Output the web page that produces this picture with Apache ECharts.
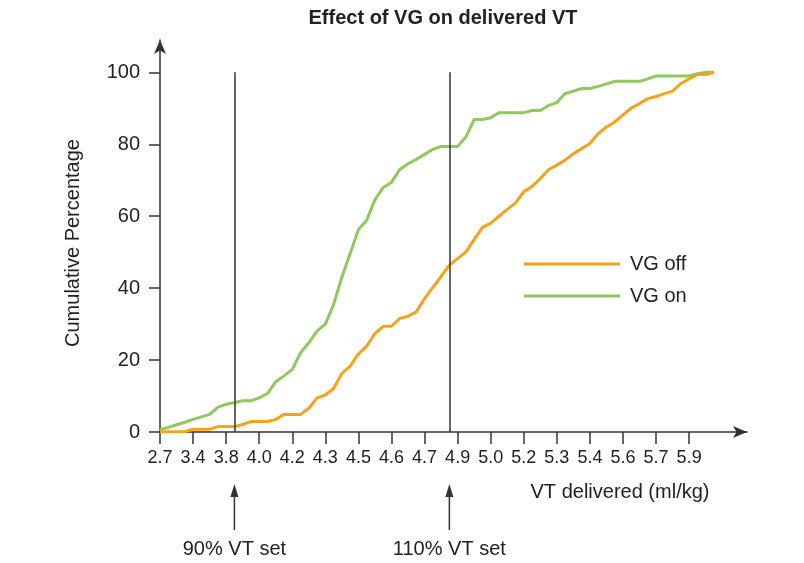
<!DOCTYPE html>
<html>
<head>
<meta charset="utf-8">
<script src="https://cdn.jsdelivr.net/npm/echarts@6/dist/echarts.min.js"></script>
<style>
  html, body { margin: 0; padding: 0; background: #fff; }
  #chart { width: 804px; height: 563px; }
</style>
</head>
<body>
<div id="chart"></div>
<script>
// tick labels along VT delivered (ml/kg); 4 samples between each label
const tickLabels = ['2.7', '3.4', '3.8', '4.0', '4.2', '4.3', '4.5', '4.6', '4.7', '4.9', '5.0', '5.2', '5.3', '5.4', '5.6', '5.7', '5.9']
const stepsPerTick = 4
const yTicks = [0, 20, 40, 60, 80, 100]

// cumulative percentage, one value per sample step
const vgOff = [
  0, 0.1, 0.1, 0.1, 0.75, 0.75, 0.75, 1.5, 1.5, 1.5,
  2.1, 2.9, 2.9, 2.9, 3.5, 4.9, 4.9, 4.9, 6.6, 9.5,
  10.3, 12.1, 16.3, 18.3, 21.7, 23.9, 27.4, 29.4, 29.4, 31.6,
  32.2, 33.4, 37.1, 40.2, 43.3, 46.4, 48.2, 50.1, 53.5, 56.9,
  58.1, 60, 61.9, 63.7, 66.8, 68.3, 70.5, 73, 74.2, 75.6,
  77.4, 78.8, 80.2, 83, 84.8, 86.2, 88.2, 90.1, 91.3, 92.7,
  93.3, 94.1, 94.8, 96.9, 98.2, 99.4, 99.4, 100
]
const vgOn = [
  0.6, 1.3, 2.0, 2.7, 3.5, 4.2, 4.9, 6.9, 7.7, 8.2,
  8.7, 8.7, 9.5, 10.7, 14.0, 15.6, 17.4, 22.0, 24.8, 28.1,
  30.0, 35.5, 43.1, 49.6, 56.3, 58.9, 64.6, 68.0, 69.4, 73.0,
  74.6, 75.8, 77.2, 78.6, 79.4, 79.4, 79.4, 82.0, 86.9, 86.9,
  87.4, 88.8, 88.8, 88.8, 88.8, 89.4, 89.4, 90.8, 91.6, 94.1,
  94.8, 95.5, 95.5, 96.1, 96.8, 97.5, 97.5, 97.5, 97.5, 98.2,
  99.0, 99.0, 99.0, 99.0, 99.0, 99.6, 100, 100
]

// VT set markers (in sample steps)
const setNames = ['90% VT set', '110% VT set']
const setSteps = [9, 35]

const font = 'Liberation Sans, Arial, sans-serif'
const axisColor = '#333'
const textColor = '#222'

const tickSteps = tickLabels.map((_, i) => i * stepsPerTick)
const toPairs = arr => arr.map((v, i) => [i, v])

const chart = echarts.init(document.getElementById('chart'))

const option = {
  animation: false,
  legend: {
    orient: 'vertical',
    left: 524,
    top: 253,
    padding: 0,
    icon: 'rect',
    itemWidth: 96,
    itemHeight: 3,
    itemGap: 10,
    data: ['VG off', 'VG on'],
    textStyle: { fontFamily: font, fontSize: 20, color: textColor, lineHeight: 22, padding: [0, 0, 0, 5] }
  },
  grid: { left: 160, right: 57, top: 40, bottom: 131 },
  xAxis: {
    type: 'value',
    min: 0,
    max: 71,
    axisLine: {
      lineStyle: { color: axisColor, width: 1.5 },
      symbol: ['none', 'arrow'],
      symbolSize: [9, 14]
    },
    axisTick: { customValues: tickSteps, length: 12, lineStyle: { color: axisColor, width: 1.5 } },
    axisLabel: {
      customValues: tickSteps,
      formatter: v => tickLabels[Math.round(v / stepsPerTick)],
      margin: 17,
      fontFamily: font,
      fontSize: 18,
      color: textColor
    },
    splitLine: { show: false }
  },
  yAxis: {
    type: 'value',
    min: 0,
    max: 109,
    axisLine: {
      show: true,
      lineStyle: { color: axisColor, width: 1.5 },
      symbol: ['none', 'arrow'],
      symbolSize: [9, 14]
    },
    axisTick: { show: true, customValues: yTicks, length: 11, lineStyle: { color: axisColor, width: 1.5 } },
    axisLabel: {
      customValues: yTicks,
      margin: 20,
      fontFamily: font,
      fontSize: 20,
      color: textColor
    },
    splitLine: { show: false }
  },
  series: [
    {
      name: 'VG off',
      type: 'line',
      data: toPairs(vgOff),
      symbol: 'none',
      color: '#F8A11C',
      lineStyle: { width: 3 },
      z: 3,
      markLine: {
        silent: true,
        symbol: 'none',
        label: { show: false },
        lineStyle: { color: axisColor, width: 1.5, type: 'solid' },
        data: setSteps.map(s => [{ coord: [s, 0] }, { coord: [s, 100] }])
      }
    },
    {
      name: 'VG on',
      type: 'line',
      data: toPairs(vgOn),
      symbol: 'none',
      color: '#8FC95B',
      lineStyle: { width: 3 },
      z: 2
    }
  ]
}

chart.setOption(option)

// title, axis names and VT set arrows
const graphics = [
  {
    type: 'text',
    x: 443,
    y: 18,
    style: { text: 'Effect of VG on delivered VT', font: 'bold 20px ' + font, fill: textColor, align: 'center', verticalAlign: 'middle' }
  },
  {
    type: 'text',
    x: 73,
    y: 243,
    rotation: Math.PI / 2,
    style: { text: 'Cumulative Percentage', font: '20px ' + font, fill: textColor, align: 'center', verticalAlign: 'middle' }
  },
  {
    type: 'text',
    x: 620,
    y: 492,
    style: { text: 'VT delivered (ml/kg)', font: '20px ' + font, fill: textColor, align: 'center', verticalAlign: 'middle' }
  }
]

setSteps.forEach((s, i) => {
  const px = chart.convertToPixel({ xAxisIndex: 0 }, s)
  graphics.push(
    { type: 'line', shape: { x1: px, y1: 530, x2: px, y2: 494 }, style: { stroke: axisColor, lineWidth: 1.5 } },
    { type: 'polygon', shape: { points: [[px, 484], [px - 4, 497], [px + 4, 497]] }, style: { fill: axisColor } },
    {
      type: 'text',
      x: px,
      y: 549,
      style: { text: setNames[i], font: '20px ' + font, fill: textColor, align: 'center', verticalAlign: 'middle' }
    }
  )
})

chart.setOption({ graphic: graphics })
</script>
</body>
</html>
